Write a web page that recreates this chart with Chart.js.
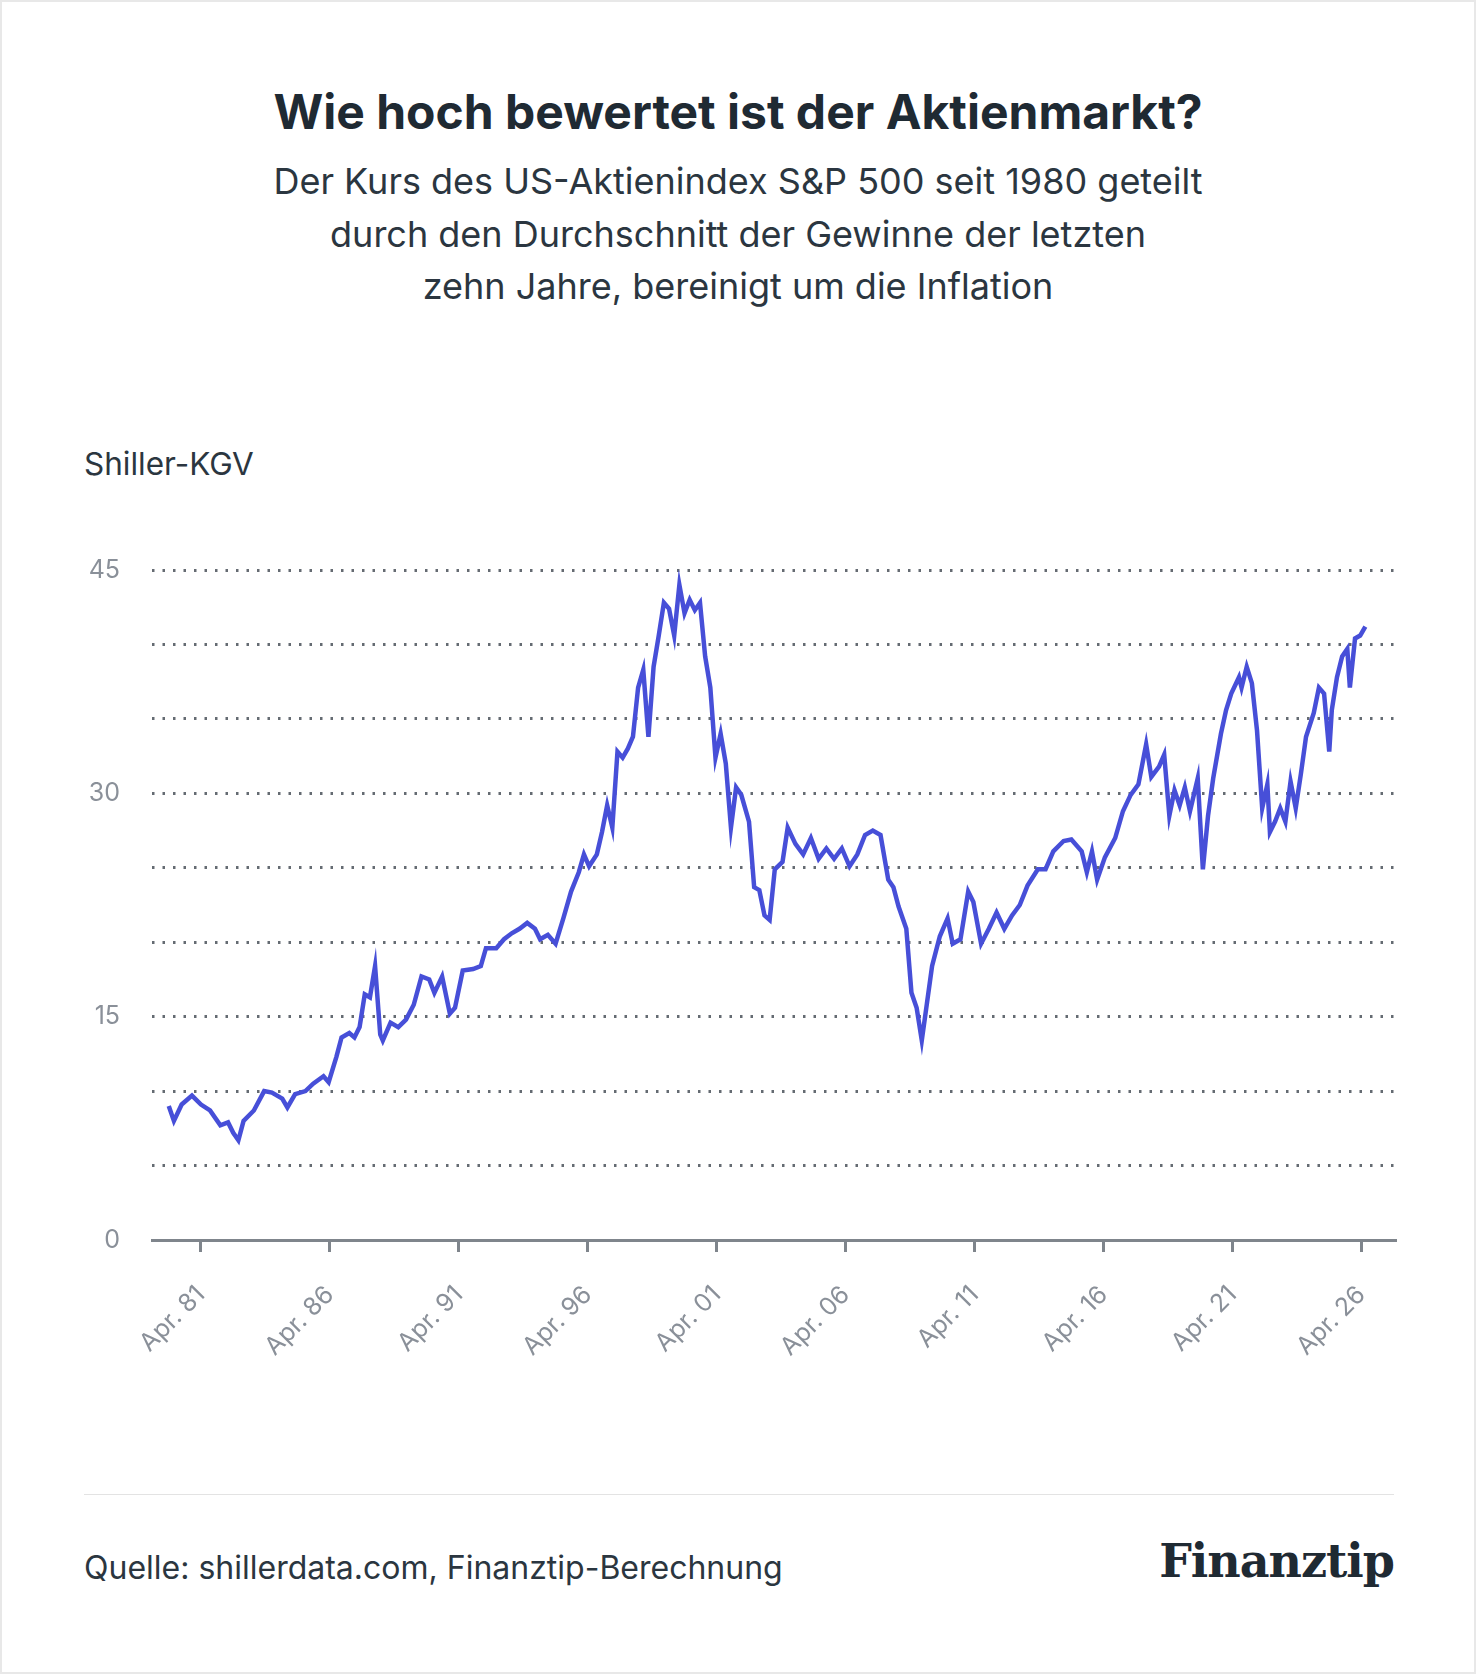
<!DOCTYPE html>
<html>
<head>
<meta charset="utf-8">
<script src="https://cdn.jsdelivr.net/npm/chart.js@4"></script>
<style>
body { margin: 0; background: #fff; font-family: Inter, sans-serif; }
#page { position: relative; width: 1472px; height: 1670px; border: 2px solid #e8e8e8; }
h1 { position: absolute; top: 80px; left: 0; width: 100%; margin: 0; text-align: center; font-size: 48px; font-weight: 700; color: #1f2a33; }
#sub { position: absolute; top: 153px; left: 0; width: 100%; text-align: center; font-size: 36px; line-height: 52.5px; color: #2b3640; }
#ylab { position: absolute; top: 442px; left: 82px; font-size: 31.5px; color: #2b3640; }
#wrap { position: absolute; left: 60px; top: 528px; width: 1337px; height: 842px; }
#rule { position: absolute; top: 1492px; left: 82px; width: 1310px; border-top: 1px solid #e3e3e3; }
#src { position: absolute; top: 1546px; left: 82px; font-size: 32px; color: #2b3640; }
#logo { position: absolute; top: 1532px; right: 80px; font-family: "DejaVu Serif", serif; font-weight: 700; font-size: 46px; color: #1f2a33; letter-spacing: -1px; }
</style>
</head>
<body>
<div id="page">
<h1>Wie hoch bewertet ist der Aktienmarkt?</h1>
<div id="sub">Der Kurs des US-Aktienindex S&amp;P 500 seit 1980 geteilt<br>durch den Durchschnitt der Gewinne der letzten<br>zehn Jahre, bereinigt um die Inflation</div>
<div id="ylab">Shiller-KGV</div>
<div id="wrap"><canvas id="chart"></canvas></div>
<div id="rule"></div>
<div id="src">Quelle: shillerdata.com, Finanztip-Berechnung</div>
<div id="logo">Finanztip</div>
</div>
<script>
const years = [
1980.0,1980.2,1980.5,1980.9,1981.25,1981.6,1982.0,1982.3,1982.5,1982.7,1982.9,1983.3,1983.7,1984.0,1984.4,1984.6,1984.9,1985.3,1985.6,1986.0,
1986.2,1986.5,1986.7,1987.0,1987.2,1987.4,1987.6,1987.8,1988.0,1988.2,1988.3,1988.6,1988.9,1989.2,1989.5,1989.8,1990.1,1990.3,1990.6,1990.9,
1991.1,1991.4,1991.8,1992.1,1992.3,1992.7,1993.0,1993.3,1993.6,1993.9,1994.2,1994.4,1994.7,1995.0,1995.3,1995.6,1995.9,1996.1,1996.3,1996.6,
1996.8,1997.0,1997.2,1997.4,1997.6,1997.8,1998.0,1998.2,1998.4,1998.6,1998.8,1999.0,1999.2,1999.4,1999.6,1999.8,2000.0,2000.2,2000.4,2000.6,
2000.8,2001.0,2001.2,2001.4,2001.6,2001.8,2002.0,2002.2,2002.5,2002.7,2002.9,2003.1,2003.3,2003.5,2003.8,2004.0,2004.3,2004.6,2004.9,2005.2,
2005.5,2005.8,2006.1,2006.4,2006.7,2007.0,2007.3,2007.6,2007.9,2008.1,2008.3,2008.6,2008.8,2009.0,2009.2,2009.4,2009.6,2009.9,2010.2,2010.4,
2010.7,2011.0,2011.2,2011.5,2011.8,2012.1,2012.4,2012.7,2013.0,2013.3,2013.7,2014.0,2014.3,2014.7,2015.0,2015.4,2015.6,2015.8,2016.0,2016.3,
2016.7,2017.0,2017.3,2017.6,2017.9,2018.1,2018.4,2018.6,2018.8,2019.0,2019.2,2019.4,2019.6,2019.9,2020.1,2020.3,2020.5,2020.8,2021.0,2021.2,
2021.5,2021.6,2021.8,2022.0,2022.2,2022.4,2022.6,2022.7,2022.9,2023.1,2023.3,2023.5,2023.7,2023.9,2024.1,2024.4,2024.6,2024.8,2025.0,2025.1,
2025.3,2025.5,2025.7,2025.8,2026.0,2026.2,2026.4];
const cape = [
9.0,8.0,9.1,9.7,9.1,8.7,7.7,7.9,7.2,6.7,8.0,8.7,10.0,9.9,9.5,8.9,9.8,10.0,10.5,11.0,
10.6,12.3,13.6,13.9,13.6,14.3,16.5,16.3,18.4,13.8,13.4,14.6,14.3,14.8,15.8,17.7,17.5,16.6,17.7,15.2,
15.6,18.1,18.2,18.4,19.6,19.6,20.2,20.6,20.9,21.3,20.9,20.2,20.5,19.9,21.6,23.4,24.7,25.9,25.1,25.9,
27.4,29.2,27.7,32.8,32.4,33.0,33.8,37.1,38.3,33.8,38.5,40.6,42.8,42.4,40.6,44.0,42.1,43.0,42.3,42.8,
39.2,37.1,32.4,34.0,32.0,27.7,30.4,29.9,28.1,23.7,23.5,21.8,21.5,24.9,25.4,27.7,26.6,25.9,27.0,25.6,
26.3,25.6,26.3,25.1,25.9,27.2,27.5,27.2,24.2,23.7,22.4,20.9,16.6,15.6,13.4,15.9,18.4,20.4,21.6,19.9,
20.2,23.4,22.7,19.9,20.9,22.0,20.9,21.8,22.5,23.8,24.9,24.9,26.1,26.8,26.9,26.1,24.7,26.1,24.2,25.7,
27.0,28.8,29.9,30.6,33.3,31.1,31.8,32.6,28.5,30.2,29.2,30.4,28.8,31.0,24.9,28.5,31.0,34.0,35.6,36.7,
37.8,37.1,38.5,37.4,34.2,29.0,30.6,27.4,28.1,29.0,28.1,30.8,29.0,31.3,33.8,35.4,37.1,36.7,32.8,35.6,
37.8,39.2,39.7,37.1,40.4,40.6,41.2];
const xTicks = [1981.25,1986.25,1991.25,1996.25,2001.25,2006.25,2011.25,2016.25,2021.25,2026.25];
const xTickLabels = ["Apr. 81","Apr. 86","Apr. 91","Apr. 96","Apr. 01","Apr. 06","Apr. 11","Apr. 16","Apr. 21","Apr. 26"];
const yTickLabels = [0, 15, 30, 45];

const points = years.map((x, i) => ({ x, y: cape[i] }));

new Chart(document.getElementById("chart"), {
    type: "line",
    data: { datasets: [{ data: points, borderColor: "#474fd8", borderWidth: 4.5, pointRadius: 0, tension: 0 }] },
    options: {
        responsive: true,
        maintainAspectRatio: false,
        animation: false,
        layout: { padding: { top: 40, right: 4, left: 0, bottom: 0 } },
        plugins: { legend: { display: false }, tooltip: { enabled: false } },
        scales: {
            x: {
                type: "linear",
                min: 1979.35,
                max: 2027.55,
                afterBuildTicks: axis => { axis.ticks = xTicks.map(v => ({ value: v })); },
                afterFit: axis => { axis.height = 132; axis.paddingLeft = 0; axis.paddingRight = 0; },
                ticks: {
                    callback: (v, i) => xTickLabels[i],
                    maxRotation: 45, minRotation: 45,
                    color: "#8a9099",
                    font: { family: "Inter", size: 25 },
                    padding: 28
                },
                grid: { drawOnChartArea: false, drawTicks: true, tickLength: 12, color: "#7f858c", lineWidth: 3 },
                border: { color: "#7f858c", width: 3 }
            },
            y: {
                min: 0,
                max: 45,
                afterBuildTicks: axis => { axis.ticks = [0,5,10,15,20,25,30,35,40,45].map(v => ({ value: v })); },
                afterFit: axis => { axis.width = 90; axis.paddingTop = 0; axis.paddingBottom = 0; },
                ticks: {
                    callback: v => yTickLabels.includes(v) ? String(v) : "",
                    color: "#8a9099",
                    font: { family: "Inter", size: 25 },
                    padding: 32
                },
                grid: {
                    color: c => c.tick.value === 0 ? "rgba(0,0,0,0)" : "#656b72",
                    lineWidth: 3,
                    drawTicks: false
                },
                border: { display: false, dash: [2.5, 8] }
            }
        }
    }
});
</script>
</body>
</html>
